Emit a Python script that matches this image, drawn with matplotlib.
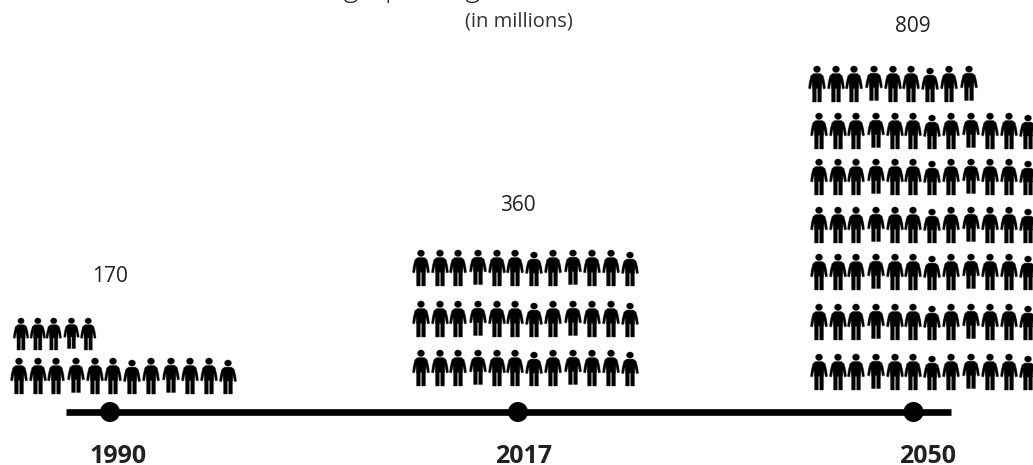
import matplotlib
matplotlib.use("Agg")
import matplotlib.pyplot as plt
from matplotlib.patches import PathPatch, Ellipse
from matplotlib.path import Path
from matplotlib.transforms import Affine2D

W, H = 1033, 465

# population per milestone year, in millions
YEARS = ["1990", "2017", "2050"]
TOTALS = ["170", "360", "809"]
# icons per row, top row first
ROW_COUNTS = [[5, 12], [12, 12, 12], [9, 12, 12, 12, 12, 12, 12]]

plt.rcParams["font.family"] = ["Open Sans", "DejaVu Sans"]

# the same hand-placed strip of icons is repeated in every row
STRIP_DX = [0, 19, 37, 57, 76, 94, 113, 132, 152, 171, 190, 209]
SHORT_HEAD = {6, 11}
SHORT_LEGS = {3, 8}


def person_path():
    # unit box: x in -0.5..0.5, y 0 (head top) to 1 (feet), y pointing down
    verts, codes = [], []

    def poly(pts):
        verts.extend(pts)
        verts.append(pts[0])
        codes.extend([Path.MOVETO] + [Path.LINETO] * (len(pts) - 1) + [Path.CLOSEPOLY])

    # head
    head = Path.circle((0, 0.09), 0.09)
    hv = head.vertices.copy()
    hv[:, 0] = hv[:, 0] * 2.25
    verts.extend(hv.tolist())
    codes.extend(head.codes.tolist())

    # shoulders, arms and trunk
    poly([(-0.20, 0.21), (0.20, 0.21), (0.36, 0.27), (0.45, 0.44), (0.50, 0.62),
          (0.38, 0.64), (0.29, 0.44), (0.27, 0.62), (-0.27, 0.62), (-0.29, 0.44),
          (-0.38, 0.64), (-0.50, 0.62), (-0.45, 0.44), (-0.36, 0.27)])
    # legs
    poly([(-0.26, 0.60), (-0.04, 0.60), (-0.04, 1.0), (-0.26, 1.0)])
    poly([(0.04, 0.60), (0.26, 0.60), (0.26, 1.0), (0.04, 1.0)])
    return Path(verts, codes)


PERSON = person_path()


def draw_person(ax, cx, top, bottom, width):
    tr = Affine2D().scale(width, bottom - top).translate(cx, top)
    ax.add_patch(PathPatch(PERSON, transform=tr + ax.transData, fc="black",
                           ec=(0, 0, 0, 0.35), lw=0.7))


def draw_row(ax, count, x0, top, height, width, squeeze=1.0):
    for i in range(count):
        t = top + (2.0 if i in SHORT_HEAD else 0.0)
        b = top + height - (1.5 if i in SHORT_LEGS else 0.0)
        draw_person(ax, x0 + STRIP_DX[i] * squeeze, t, b, width)


fig = plt.figure(figsize=(W / 100, H / 100), dpi=100)
ax = fig.add_axes([0, 0, 1, 1])
ax.set_xlim(0, W)
ax.set_ylim(H, 0)
ax.axis("off")

# title sits mostly off the top edge of the canvas
ax.text(264, -4, "Demographic Age", fontsize=21, fontweight="light", ha="left",
        va="baseline", color="#222222")
ax.text(519, 21, "(in millions)", fontsize=14.5, ha="center", va="center", color="#333333")

ROW_X0 = [[21, 19], [421, 421, 421], [817, 819, 819, 819, 819, 819, 819]]
ROW_TOP = [[318, 358], [250, 301, 350], [66, 113, 159, 207, 254, 304, 354]]
SMALL_ROW = (0, 0)

for g, rows in enumerate(ROW_COUNTS):
    for r, count in enumerate(rows):
        if (g, r) == SMALL_ROW:
            draw_row(ax, count, ROW_X0[g][r], ROW_TOP[g][r], 32, 15.5, squeeze=0.885)
        else:
            draw_row(ax, count, ROW_X0[g][r], ROW_TOP[g][r], 36, 17)

# timeline
DOT_X = [110, 518, 913.5]
ax.plot([66, 951], [412, 412], color="black", lw=4.8, solid_capstyle="butt")
for x in DOT_X:
    ax.add_patch(Ellipse((x, 412), 20, 20, fc="black", ec="none", zorder=3))

LABEL_X = [110, 518, 913]
LABEL_Y = [276, 205, 26]
for x, y, s in zip(LABEL_X, LABEL_Y, TOTALS):
    ax.text(x, y, s, fontsize=15, ha="center", va="center", color="#222222")

YEAR_X = [118, 524, 928]
for x, s in zip(YEAR_X, YEARS):
    ax.text(x, 462.5, s, fontsize=18, fontweight="bold", ha="center", va="baseline", color="#222222")

fig.savefig("out.png", dpi=100)
